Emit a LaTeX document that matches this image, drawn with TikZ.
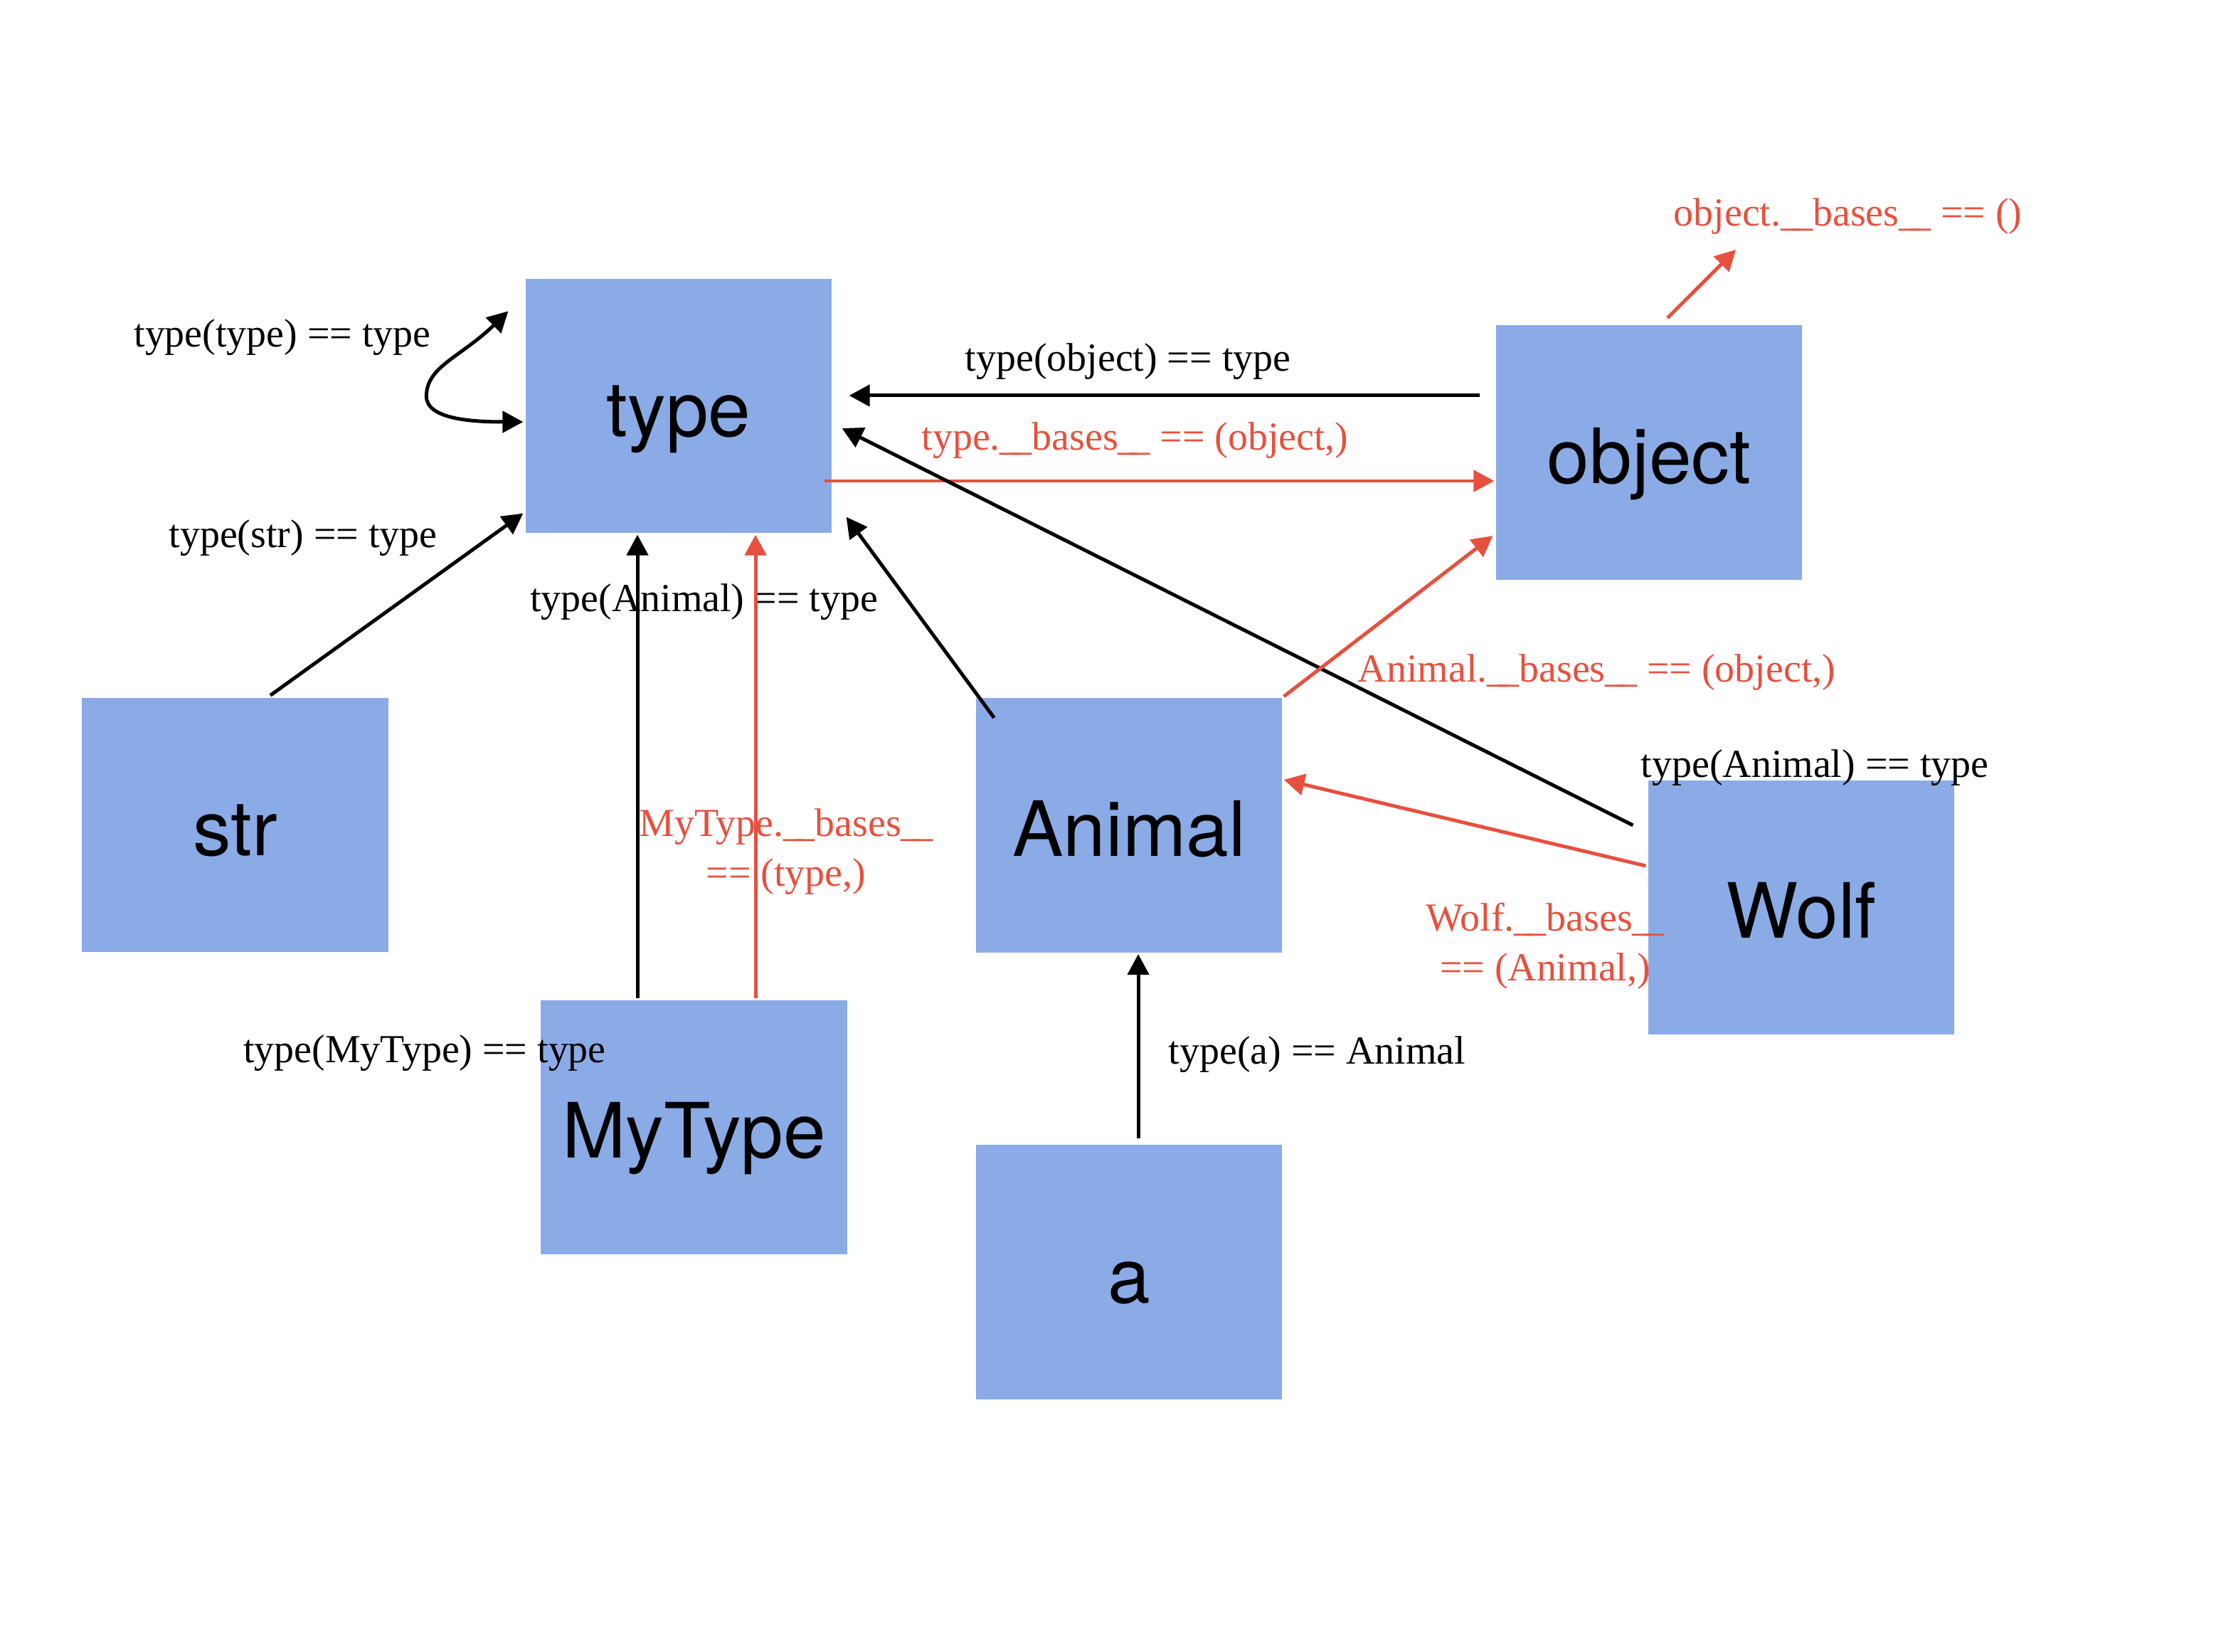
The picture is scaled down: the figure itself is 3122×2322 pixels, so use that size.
\documentclass[tikz,border=0pt]{standalone}
\usepackage{fontspec}
\setmainfont{Liberation Serif}
\setsansfont{TeX Gyre Heros}
\usetikzlibrary{arrows.meta,calc}
\definecolor{boxblue}{RGB}{138,171,230}
\definecolor{basered}{RGB}{231,80,62}
\newcommand{\dunder}{\_\kern-0.2em\_}

\begin{document}
\begin{tikzpicture}[x=0.01cm,y=-0.01cm,>={Triangle[length=0.29cm,width=0.3cm]},line width=1.42pt,
  font=\fontsize{15.9pt}{19.9pt}\selectfont,
  cls/.style={fill=boxblue,inner sep=0pt,minimum width=4.3cm,minimum height=3.57cm,
    text height=0.86cm,text depth=0pt,font=\fontsize{30.5pt}{36pt}\sffamily},
  bases/.style={text=basered}]

\useasboundingbox (0,0) rectangle (3122,2322);

% classes
\node[cls] (type)   at (954,570.5)    {type};
\node[cls] (object) at (2318,636)     {object};
\node[cls] (str)    at (330.5,1159.5) {str};
\node[cls] (animal) at (1587,1160)    {Animal};
\node[cls] (wolf)   at (2532,1275.5)  {Wolf};
\node[cls] (mytype) at (975.5,1584.5) {MyType};
\node[cls] (a)      at (1587,1788)    {a};

% labels
\node[anchor=base] (ltype) at (397,488) {type(type) == type};
\node[anchor=base] (lstr) at (426,770) {type(str) == type};
\node[anchor=base] (lobj) at (1585.5,522) {type(object) == type};
\node[anchor=base,bases] (ltbase) at (1595.5,633) {type.\dunder bases\dunder{} == (object,)};
\node[anchor=base,bases] (lobase) at (2597.5,318) {object.\dunder bases\dunder{} == ()};
\node[anchor=base] (lanimal) at (989.5,859) {type(Animal) == type};
\node[align=center,bases] (lmybase) at (1105,1197.5) {MyType.\dunder bases\dunder\\== (type,)};
\node[anchor=base,bases] (labase) at (2244.5,958) {Animal.\dunder bases\dunder{} == (object,)};
\node[anchor=base] (lwolf) at (2551,1092) {type(Animal) == type};
\node[align=center,bases] (lwbase) at (2172,1330) {Wolf.\dunder bases\dunder\\== (Animal,)};
\node[anchor=base] (lmytype) at (597,1493) {type(MyType) == type};
\node[anchor=base] (la) at (1851.5,1495) {type(a) == Animal};
\coordinate (objup) at (2440,351);

% connectors
\draw[<->] ([shift={(-22,48)}]type.north west) .. controls +(-67,65) and +(0,-42) .. ([shift={(-137,-13.5)}]type.west)
  .. controls +(0,33) and +(-68,0) .. ([shift={(-1,22.5)}]type.west);
\draw[->] ([shift={(-20,-80)}]object.west) -- ([shift={(22,-14.5)}]type.east);
\draw[->,basered] ([shift={(-13,105.5)}]type.east) -- ([shift={(0,40)}]object.west);
\draw[->] ([shift={(-19,-115.5)}]wolf.west) -- ([shift={(12,31.5)}]type.east);
\draw[->] ([shift={(28,30)}]animal.north west) -- ([shift={(18,-25)}]type.south east);
\draw[->,basered] (animal.north east) -- ([shift={(-2,-64)}]object.south west);
\draw[->,basered] ([shift={(26,-8)}]object.north) -- (objup);
\draw[->] ([shift={(49.5,-1)}]str.north) -- ([shift={(-1,-30)}]type.south west);
\draw[->] ([shift={(-79.5,0)}]mytype.north) -- ([shift={(-79.5,0)}]mytype.north |- type.south);
\draw[->,basered] ([shift={(86.5,0)}]mytype.north) -- ([shift={(86.5,0)}]mytype.north |- type.south);
\draw[->] ([shift={(13,-7)}]a.north) -- ([shift={(13,0)}]a.north |- animal.south);
\draw[->,basered] ([shift={(-1,-58.5)}]wolf.west) -- ([shift={(0,-64)}]animal.east);

\end{tikzpicture}
\end{document}
